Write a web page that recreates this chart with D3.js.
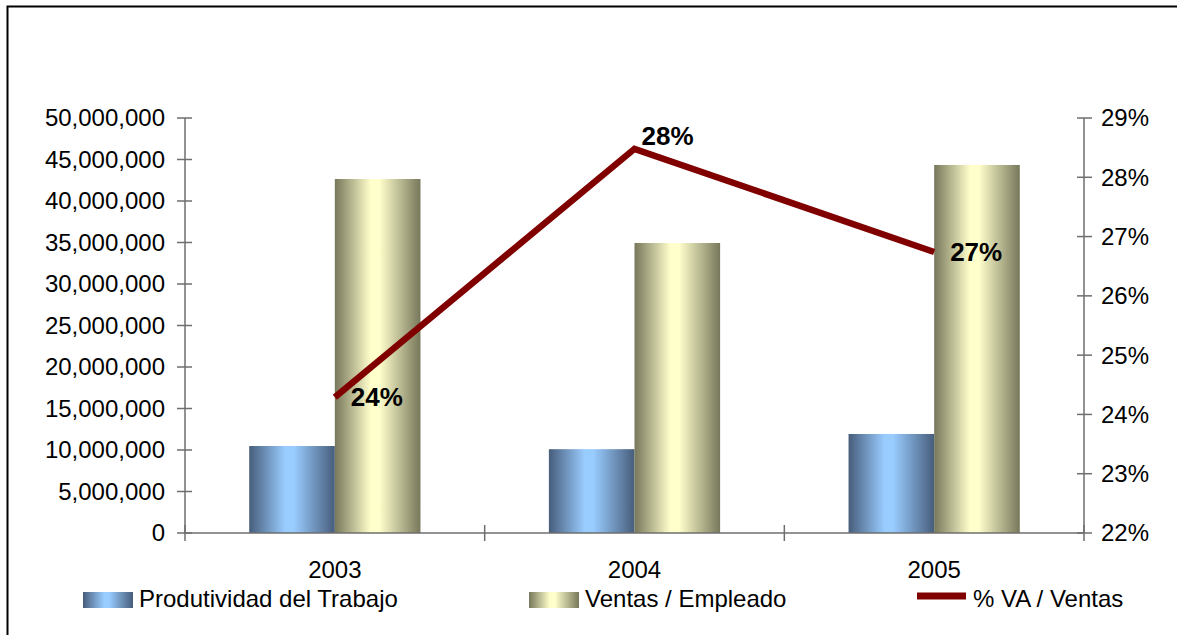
<!DOCTYPE html>
<html>
<head>
<meta charset="utf-8">
<script src="https://cdn.jsdelivr.net/npm/d3@7/dist/d3.min.js"></script>
<style>
  html, body { margin: 0; padding: 0; background: #fff; }
  svg { display: block; font-family: "Liberation Sans", Arial, sans-serif; }
</style>
</head>
<body>
<svg id="chart" width="1177" height="635"></svg>
<script>
// Years shown on the category axis
const years = ["2003", "2004", "2005"];
// Bar series (left axis)
const productividad = [10480000, 10100000, 11930000];
const ventasEmpleado = [42650000, 34940000, 44340000];
// Line series (right axis)
const vaVentas = [0.2429, 0.2848, 0.2674];
// Series names
const seriesNames = ["Produtividad del Trabajo", "Ventas / Empleado", "% VA / Ventas"];
// Axis tick values
const leftTicks = [0, 5000000, 10000000, 15000000, 20000000, 25000000, 30000000, 35000000, 40000000, 45000000, 50000000];
const rightTicks = [0.22, 0.23, 0.24, 0.25, 0.26, 0.27, 0.28, 0.29];

const svg = d3.select("#chart");
const plot = { left: 185, right: 1084, top: 118, bottom: 533 };
const axisColor = "#6e6e6e";

// Outer frame (extends past the visible area on the right and bottom)
svg.append("rect")
  .attr("x", 7.5).attr("y", 6.5)
  .attr("width", 1300).attr("height", 800)
  .attr("fill", "none").attr("stroke", "#000").attr("stroke-width", 2);

// Gradients for the cylinder-like bars
const defs = svg.append("defs");
function makeGrad(id, dark, light) {
  const g = defs.append("linearGradient").attr("id", id)
    .attr("x1", "0%").attr("x2", "100%").attr("y1", "0%").attr("y2", "0%");
  g.append("stop").attr("offset", "0%").attr("stop-color", dark);
  g.append("stop").attr("offset", "42%").attr("stop-color", light);
  g.append("stop").attr("offset", "52%").attr("stop-color", light);
  g.append("stop").attr("offset", "100%").attr("stop-color", dark);
}
makeGrad("gradBlue", "#475d7b", "#99ccff");
makeGrad("gradCream", "#77775b", "#ffffcc");
const fills = ["url(#gradBlue)", "url(#gradCream)"];

// Scales
const x0 = d3.scaleBand().domain(years).range([plot.left, plot.right]).padding(0);
const bw = x0.bandwidth();
const barW = bw / 3.5; // two bars plus a 150% gap
const x1 = d3.scaleBand().domain([0, 1])
  .range([bw / 2 - barW, bw / 2 + barW]).padding(0);
const yL = d3.scaleLinear().domain([0, 50000000]).range([plot.bottom, plot.top]);
const yR = d3.scaleLinear().domain([0.22, 0.29]).range([plot.bottom, plot.top]);

// Bars
const barSeries = [productividad, ventasEmpleado];
const groups = svg.append("g").selectAll("g").data(years).join("g")
  .attr("transform", d => `translate(${x0(d)},0)`);
groups.selectAll("rect")
  .data((d, i) => barSeries.map((s, k) => ({ k, v: s[i] })))
  .join("rect")
  .attr("x", d => x1(d.k))
  .attr("width", x1.bandwidth())
  .attr("y", d => yL(d.v))
  .attr("height", d => yL(0) - yL(d.v))
  .attr("fill", d => fills[d.k]);

// Axes
const axes = svg.append("g").attr("stroke", axisColor).attr("stroke-width", 1.5);
axes.append("line").attr("x1", plot.left).attr("x2", plot.left).attr("y1", plot.top).attr("y2", plot.bottom);
axes.append("line").attr("x1", plot.right).attr("x2", plot.right).attr("y1", plot.top).attr("y2", plot.bottom);
axes.append("line").attr("x1", plot.left).attr("x2", plot.right).attr("y1", plot.bottom).attr("y2", plot.bottom);

// Crossing tick marks
axes.selectAll(".tl").data(leftTicks).join("line")
  .attr("x1", plot.left - 8).attr("x2", plot.left + 7)
  .attr("y1", d => yL(d)).attr("y2", d => yL(d));
axes.selectAll(".tr").data(rightTicks).join("line")
  .attr("x1", plot.right - 7).attr("x2", plot.right + 8)
  .attr("y1", d => yR(d)).attr("y2", d => yR(d));
const bounds = years.map(d => x0(d)).concat([x0(years[years.length - 1]) + bw]);
axes.selectAll(".tb").data(bounds).join("line")
  .attr("x1", d => d).attr("x2", d => d)
  .attr("y1", plot.bottom - 8).attr("y2", plot.bottom + 8);

// Tick labels
const labels = svg.append("g").attr("font-size", 24).attr("fill", "#000");
labels.selectAll(".ll").data(leftTicks).join("text")
  .attr("x", plot.left - 20).attr("y", d => yL(d)).attr("dy", "0.35em")
  .attr("text-anchor", "end").text(d3.format(","));
labels.selectAll(".rl").data(rightTicks).join("text")
  .attr("x", plot.right + 17).attr("y", d => yR(d)).attr("dy", "0.35em")
  .attr("text-anchor", "start").text(d3.format(".0%"));
labels.selectAll(".xl").data(years).join("text")
  .attr("x", d => x0(d) + bw / 2).attr("y", 578)
  .attr("text-anchor", "middle").text(d => d);

// Line series
const pts = years.map((d, i) => ({ year: d, v: vaVentas[i] }));
const line = d3.line().x(d => x0(d.year) + bw / 2).y(d => yR(d.v));
svg.append("path").datum(pts)
  .attr("d", line)
  .attr("fill", "none").attr("stroke", "#800000").attr("stroke-width", 6.5)
  .attr("stroke-linejoin", "miter").attr("stroke-linecap", "butt");

// Data labels: to the right of each point, nudged up at the peak
const peak = d3.max(vaVentas);
svg.append("g").selectAll("text").data(pts).join("text")
  .attr("x", d => x0(d.year) + bw / 2 + (d.v === peak ? 7 : 16))
  .attr("y", d => yR(d.v) + (d.v === peak ? -13 : 0))
  .attr("dy", "0.35em")
  .attr("font-size", 26).attr("font-weight", "bold").attr("fill", "#000")
  .text(d => d3.format(".0%")(d.v));

// Legend
const legend = svg.append("g").attr("font-size", 24).attr("fill", "#000");
const legItems = [
  { name: seriesNames[0], x: 83, type: "bar", fill: fills[0] },
  { name: seriesNames[1], x: 529, type: "bar", fill: fills[1] },
  { name: seriesNames[2], x: 917, type: "line" }
];
legItems.forEach(it => {
  if (it.type === "bar") {
    legend.append("rect").attr("x", it.x).attr("y", 592).attr("width", 50).attr("height", 16)
      .attr("fill", it.fill);
  } else {
    legend.append("line").attr("x1", it.x).attr("x2", it.x + 49).attr("y1", 596).attr("y2", 596)
      .attr("stroke", "#800000").attr("stroke-width", 7);
  }
  legend.append("text").attr("x", it.x + 56).attr("y", 607).text(it.name);
});
</script>
</body>
</html>
